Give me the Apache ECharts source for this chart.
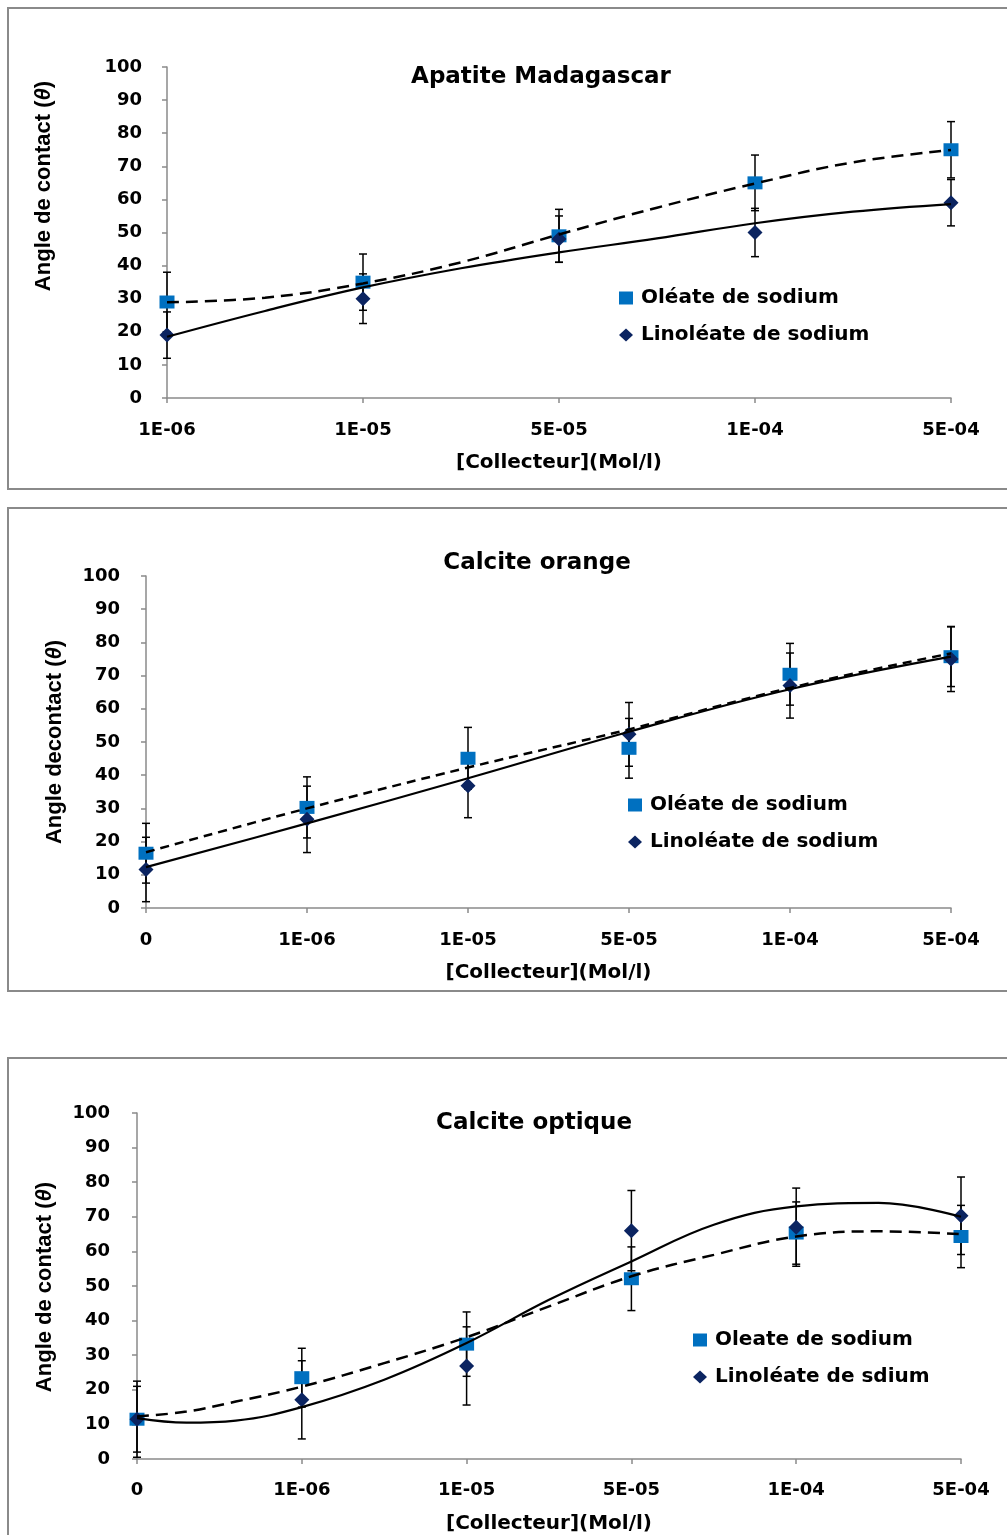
<!DOCTYPE html>
<html>
<head>
<meta charset="utf-8">
<script src="https://cdn.jsdelivr.net/npm/echarts@6/dist/echarts.min.js"></script>
<style>
  html, body { margin: 0; padding: 0; background: #fff; }
  #chart { width: 1007px; height: 1535px; }
</style>
</head>
<body>
<div id="chart"></div>
<script>
// ---------- Data ----------
// Panel 1 : Apatite Madagascar
const title1 = 'Apatite Madagascar';
const xLabels1 = ['1E-06', '1E-05', '5E-05', '1E-04', '5E-04'];
const oleate1 = [29, 35, 49, 65, 75];
const oleate1Err = [9, 8.5, 8, 8.4, 8.5];
const linoleate1 = [19, 30, 48, 50, 59];
const linoleate1Err = [7, 7.5, 7, 7.3, 7];
const trendX1 = [0, 0.5, 1, 1.5, 2, 2.5, 3, 3.5, 4];
const oleate1Trend = [28.9, 30.3, 34.6, 41.0, 49.4, 57.5, 64.8, 71.2, 74.9];
const linoleate1Trend = [18.5, 26.3, 33.4, 39.2, 44.0, 48.2, 52.8, 56.3, 58.6];

// Panel 2 : Calcite orange
const title2 = 'Calcite orange';
const xLabels2 = ['0', '1E-06', '1E-05', '5E-05', '1E-04', '5E-04'];
const oleate2 = [16.5, 30.3, 45.1, 48.1, 70.4, 75.7];
const oleate2Err = [9, 9.2, 9.3, 9, 9.3, 9];
const linoleate2 = [11.6, 26.7, 36.8, 52.3, 67, 75];
const linoleate2Err = [9.7, 10, 9.6, 9.6, 9.8, 9.8];
const trendX2 = [0, 1, 2, 3, 4, 5];
const oleate2Trend = [16.8, 30.0, 42.3, 53.8, 66.3, 76.7];
const linoleate2Trend = [12.3, 25.5, 39.1, 53.1, 65.9, 75.7];

// Panel 3 : Calcite optique
const title3 = 'Calcite optique';
const xLabels3 = ['0', '1E-06', '1E-05', '5E-05', '1E-04', '5E-04'];
const oleate3 = [11.5, 23.5, 33.2, 52.1, 65.3, 64.3];
const oleate3Err = [11, 8.5, 9.3, 9.2, 9, 9];
const linoleate3 = [11.5, 17.1, 26.9, 66, 67, 70.3];
const linoleate3Err = [9.5, 11.3, 11.3, 11.6, 11.3, 11.2];
const trendX3 = [0, 0.3, 0.6, 1, 1.5, 2, 2.5, 3, 3.5, 4, 4.5, 5];
const oleate3Trend = [12.3, 13.7, 16.6, 20.9, 27.7, 35.2, 44.1, 52.8, 59.0, 64.3, 65.8, 65.0];
const linoleate3Trend = [11.8, 10.5, 11.1, 15.0, 22.9, 33.5, 46.0, 57.1, 67.7, 73.0, 74.0, 70.0];

const yTicks = { min: 0, max: 100, interval: 10 };
const xAxisTitle = '[Collecteur](Mol/l)';

// ---------- Styling ----------
const FONT = '"DejaVu Sans", Verdana, sans-serif';
const NARROW = '"Liberation Sans Narrow", "Liberation Sans", sans-serif';
const AXIS_COLOR = '#8a8a8a';
const SQUARE_COLOR = '#0070C0';
const DIAMOND_COLOR = '#0B2461';

const panels = [
  {
    title: title1, labels: xLabels1,
    ole: oleate1, oleErr: oleate1Err, lin: linoleate1, linErr: linoleate1Err,
    tx: trendX1, oleT: oleate1Trend, linT: linoleate1Trend,
    names: ['Oléate de sodium', 'Linoléate de sodium'],
    grid: { left: 167, top: 67, width: 784, height: 331 },
    titlePos: { x: 536, y: 61 },
    yName: 'Angle de contact (', yNamePos: { x: 44, y: 186 },
    legendPos: { left: 619, top: 287 },
    yMargin: 25, xMargin: 23, dash: [12, 7],
    box: { y: 8, h: 481 }
  },
  {
    title: title2, labels: xLabels2,
    ole: oleate2, oleErr: oleate2Err, lin: linoleate2, linErr: linoleate2Err,
    tx: trendX2, oleT: oleate2Trend, linT: linoleate2Trend,
    names: ['Oléate de sodium', 'Linoléate de sodium'],
    grid: { left: 146, top: 576, width: 805, height: 332 },
    titlePos: { x: 532, y: 547 },
    yName: 'Angle decontact (', yNamePos: { x: 55, y: 742 },
    legendPos: { left: 628, top: 794 },
    yMargin: 26, xMargin: 23, dash: [9, 6],
    box: { y: 508, h: 483 }
  },
  {
    title: title3, labels: xLabels3,
    ole: oleate3, oleErr: oleate3Err, lin: linoleate3, linErr: linoleate3Err,
    tx: trendX3, oleT: oleate3Trend, linT: linoleate3Trend,
    names: ['Oleate de sodium', 'Linoléate de sdium'],
    grid: { left: 137, top: 1113, width: 824, height: 346 },
    titlePos: { x: 529, y: 1107 },
    yName: 'Angle de contact (', yNamePos: { x: 45, y: 1287 },
    legendPos: { left: 693, top: 1329 },
    yMargin: 27, xMargin: 22, dash: [12, 7],
    box: { y: 1058, h: 520 }
  }
];

function errRender(params, api) {
  const x = api.value(0), lo = api.value(1), hi = api.value(2);
  const p1 = api.coord([x, hi]);
  const p2 = api.coord([x, lo]);
  const w = 4;
  const st = { stroke: '#000', lineWidth: 1.5 };
  return {
    type: 'group',
    children: [
      { type: 'line', shape: { x1: p1[0], y1: p1[1], x2: p2[0], y2: p2[1] }, style: st },
      { type: 'line', shape: { x1: p1[0] - w, y1: p1[1], x2: p1[0] + w, y2: p1[1] }, style: st },
      { type: 'line', shape: { x1: p2[0] - w, y1: p2[1], x2: p2[0] + w, y2: p2[1] }, style: st }
    ]
  };
}

const grids = [], xAxes = [], yAxes = [], series = [], titles = [], legends = [], graphics = [];

panels.forEach((p, i) => {
  grids.push(Object.assign({ containLabel: false }, p.grid));

  const axisLine = { show: true, lineStyle: { color: AXIS_COLOR, width: 1.5 } };
  const axisTick = { show: true, inside: false, length: 5, lineStyle: { color: AXIS_COLOR, width: 1.5 } };

  xAxes.push({
    type: 'value', gridIndex: i,
    min: 0, max: p.labels.length - 1, interval: 1,
    axisLine, axisTick,
    splitLine: { show: false },
    axisLabel: {
      margin: p.xMargin,
      color: '#000', fontFamily: FONT, fontWeight: 'bold', fontSize: 18,
      formatter: (v) => p.labels[Math.round(v)] ?? ''
    },
    name: xAxisTitle, nameLocation: 'middle', nameGap: 55,
    nameTextStyle: { color: '#000', fontFamily: FONT, fontWeight: 'bold', fontSize: 20 }
  });

  yAxes.push({
    type: 'value', gridIndex: i,
    min: yTicks.min, max: yTicks.max, interval: yTicks.interval,
    axisLine, axisTick,
    splitLine: { show: false },
    axisLabel: {
      margin: p.yMargin,
      color: '#000', fontFamily: FONT, fontWeight: 'bold', fontSize: 18
    }
  });

  const errOle = p.ole.map((v, k) => [k, v - p.oleErr[k], v + p.oleErr[k]]);
  const errLin = p.lin.map((v, k) => [k, v - p.linErr[k], v + p.linErr[k]]);

  series.push({
    type: 'custom', xAxisIndex: i, yAxisIndex: i, z: 2,
    renderItem: errRender, encode: { x: 0, y: [1, 2] }, data: errOle, silent: true
  });
  series.push({
    type: 'custom', xAxisIndex: i, yAxisIndex: i, z: 2,
    renderItem: errRender, encode: { x: 0, y: [1, 2] }, data: errLin, silent: true
  });
  series.push({
    name: p.names[0], type: 'scatter', xAxisIndex: i, yAxisIndex: i, z: 3,
    symbol: 'rect', symbolSize: [15, 13],
    itemStyle: { color: SQUARE_COLOR, opacity: 1 },
    data: p.ole.map((v, k) => [k, v])
  });
  series.push({
    name: p.names[1], type: 'scatter', xAxisIndex: i, yAxisIndex: i, z: 3,
    symbol: 'diamond', symbolSize: [15, 15],
    itemStyle: { color: DIAMOND_COLOR, opacity: 1 },
    data: p.lin.map((v, k) => [k, v])
  });
  series.push({
    type: 'line', xAxisIndex: i, yAxisIndex: i, z: 4,
    symbol: 'none', smooth: 0.4, silent: true,
    lineStyle: { color: '#000', width: 2.5, type: p.dash },
    data: p.tx.map((t, k) => [t, p.oleT[k]])
  });
  series.push({
    type: 'line', xAxisIndex: i, yAxisIndex: i, z: 4,
    symbol: 'none', smooth: 0.4, silent: true,
    lineStyle: { color: '#000', width: 2.2, type: 'solid' },
    data: p.tx.map((t, k) => [t, p.linT[k]])
  });

  titles.push({
    text: p.title, left: p.titlePos.x, top: p.titlePos.y, textAlign: 'center',
    textStyle: { color: '#000', fontFamily: FONT, fontWeight: 'bold', fontSize: 23 }
  });

  legends.push({
    orient: 'vertical', left: p.legendPos.left, top: p.legendPos.top,
    padding: 0, itemGap: 15, itemWidth: 14, itemHeight: 13,
    selectedMode: false,
    textStyle: { color: '#000', fontFamily: FONT, fontWeight: 'bold', fontSize: 20, lineHeight: 22, padding: [0, 0, 0, 3] },
    data: [
      { name: p.names[0], icon: 'rect', itemStyle: { color: SQUARE_COLOR, opacity: 1 } },
      { name: p.names[1], icon: 'diamond', itemStyle: { color: DIAMOND_COLOR, opacity: 1 } }
    ]
  });

  graphics.push({
    type: 'rect', silent: true, z: -10,
    shape: { x: 8, y: p.box.y, width: 1020, height: p.box.h },
    style: { fill: 'none', stroke: AXIS_COLOR, lineWidth: 2 }
  });
  graphics.push({
    type: 'text', silent: true,
    x: p.yNamePos.x, y: p.yNamePos.y, rotation: Math.PI / 2,
    style: {
      text: p.yName + '{i|θ})',
      font: 'bold 22px ' + NARROW,
      fill: '#000',
      align: 'center', verticalAlign: 'middle',
      rich: { i: { fontStyle: 'italic', fontWeight: 'bold', fontSize: 22, fontFamily: NARROW, fill: '#000' } }
    }
  });
});

const chart = echarts.init(document.getElementById('chart'), null, { renderer: 'canvas' });
chart.setOption({
  animation: false,
  backgroundColor: '#ffffff',
  title: titles,
  legend: legends,
  grid: grids,
  xAxis: xAxes,
  yAxis: yAxes,
  series: series,
  graphic: graphics
});
</script>
</body>
</html>
